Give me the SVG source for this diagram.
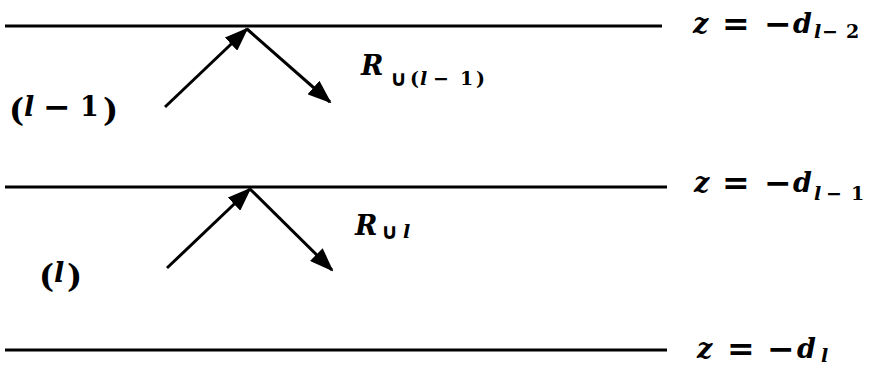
<svg xmlns="http://www.w3.org/2000/svg" width="878" height="367" viewBox="0 0 878 367">
<style>
.ln{stroke:#000;stroke-width:3;fill:none}
.ar{stroke:#000;stroke-width:3;fill:none;marker-end:url(#ah)}
.t{font-family:"DejaVu Serif",serif;font-size:27px;font-weight:bold;fill:#000}
.i{font-style:italic}
.s{font-size:19px}
.o{font-size:33px}
.p{font-size:32px}
.u{font-family:"DejaVu Sans",sans-serif;font-size:22px}
</style>
<defs>
<marker id="ah" markerWidth="24" markerHeight="18" refX="22" refY="9" orient="auto" markerUnits="userSpaceOnUse">
<path d="M0,0 L24,9 L0,18 Z" fill="#000"/>
</marker>
</defs>
<g id="boundary1">
<line class="ln" x1="5" y1="26" x2="662" y2="26"/>
<text class="t"><tspan class="i" x="693" y="33">z</tspan><tspan class="o" x="722" y="35">=</tspan><tspan class="o" x="764" y="35">−</tspan><tspan class="i" x="793" y="33">d</tspan><tspan class="s i" x="814" y="38">l</tspan><tspan class="s" x="822" y="38">−</tspan><tspan class="s" x="846" y="38">2</tspan></text>
</g>
<g id="boundary2">
<line class="ln" x1="5" y1="187" x2="667" y2="187"/>
<text class="t"><tspan class="i" x="694" y="192">z</tspan><tspan class="o" x="722" y="194">=</tspan><tspan class="o" x="764" y="194">−</tspan><tspan class="i" x="793" y="192">d</tspan><tspan class="s i" x="814" y="200">l</tspan><tspan class="s" x="826" y="200">−</tspan><tspan class="s" x="851" y="200">1</tspan></text>
</g>
<g id="boundary3">
<line class="ln" x1="5" y1="350" x2="667" y2="350"/>
<text class="t"><tspan class="i" x="697" y="358">z</tspan><tspan class="o" x="727" y="360">=</tspan><tspan class="o" x="767" y="360">−</tspan><tspan class="i" x="797" y="358">d</tspan><tspan class="s i" x="821" y="362">l</tspan></text>
</g>
<g id="layer1">
<text class="t"><tspan class="p" x="9" y="121">(</tspan><tspan class="i" x="24" y="116">l</tspan><tspan class="o" x="43" y="118">−</tspan><tspan x="80" y="116">1</tspan><tspan class="p" x="103" y="121">)</tspan></text>
<text class="t"><tspan class="i" x="361" y="75">R</tspan><tspan class="u" x="390" y="86">∪</tspan><tspan class="s" x="410" y="85">(</tspan><tspan class="s i" x="420" y="85">l</tspan><tspan class="s" x="433" y="85">−</tspan><tspan class="s" x="460" y="85">1</tspan><tspan class="s" x="476" y="85">)</tspan></text>
</g>
<g id="layer2">
<text class="t"><tspan class="p" x="39" y="287">(</tspan><tspan class="i" x="54" y="282">l</tspan><tspan class="p" x="67" y="287">)</tspan></text>
<text class="t"><tspan class="i" x="355" y="235">R</tspan><tspan class="u" x="381" y="239">∪</tspan><tspan class="s i" x="403" y="238">l</tspan></text>
</g>
<g id="connectors">
<line class="ar" x1="165" y1="107" x2="247" y2="29"/>
<line class="ar" x1="247" y1="29" x2="330" y2="102"/>
<line class="ar" x1="167" y1="268" x2="250" y2="189"/>
<line class="ar" x1="250" y1="189" x2="332" y2="270"/>
</g>
</svg>
